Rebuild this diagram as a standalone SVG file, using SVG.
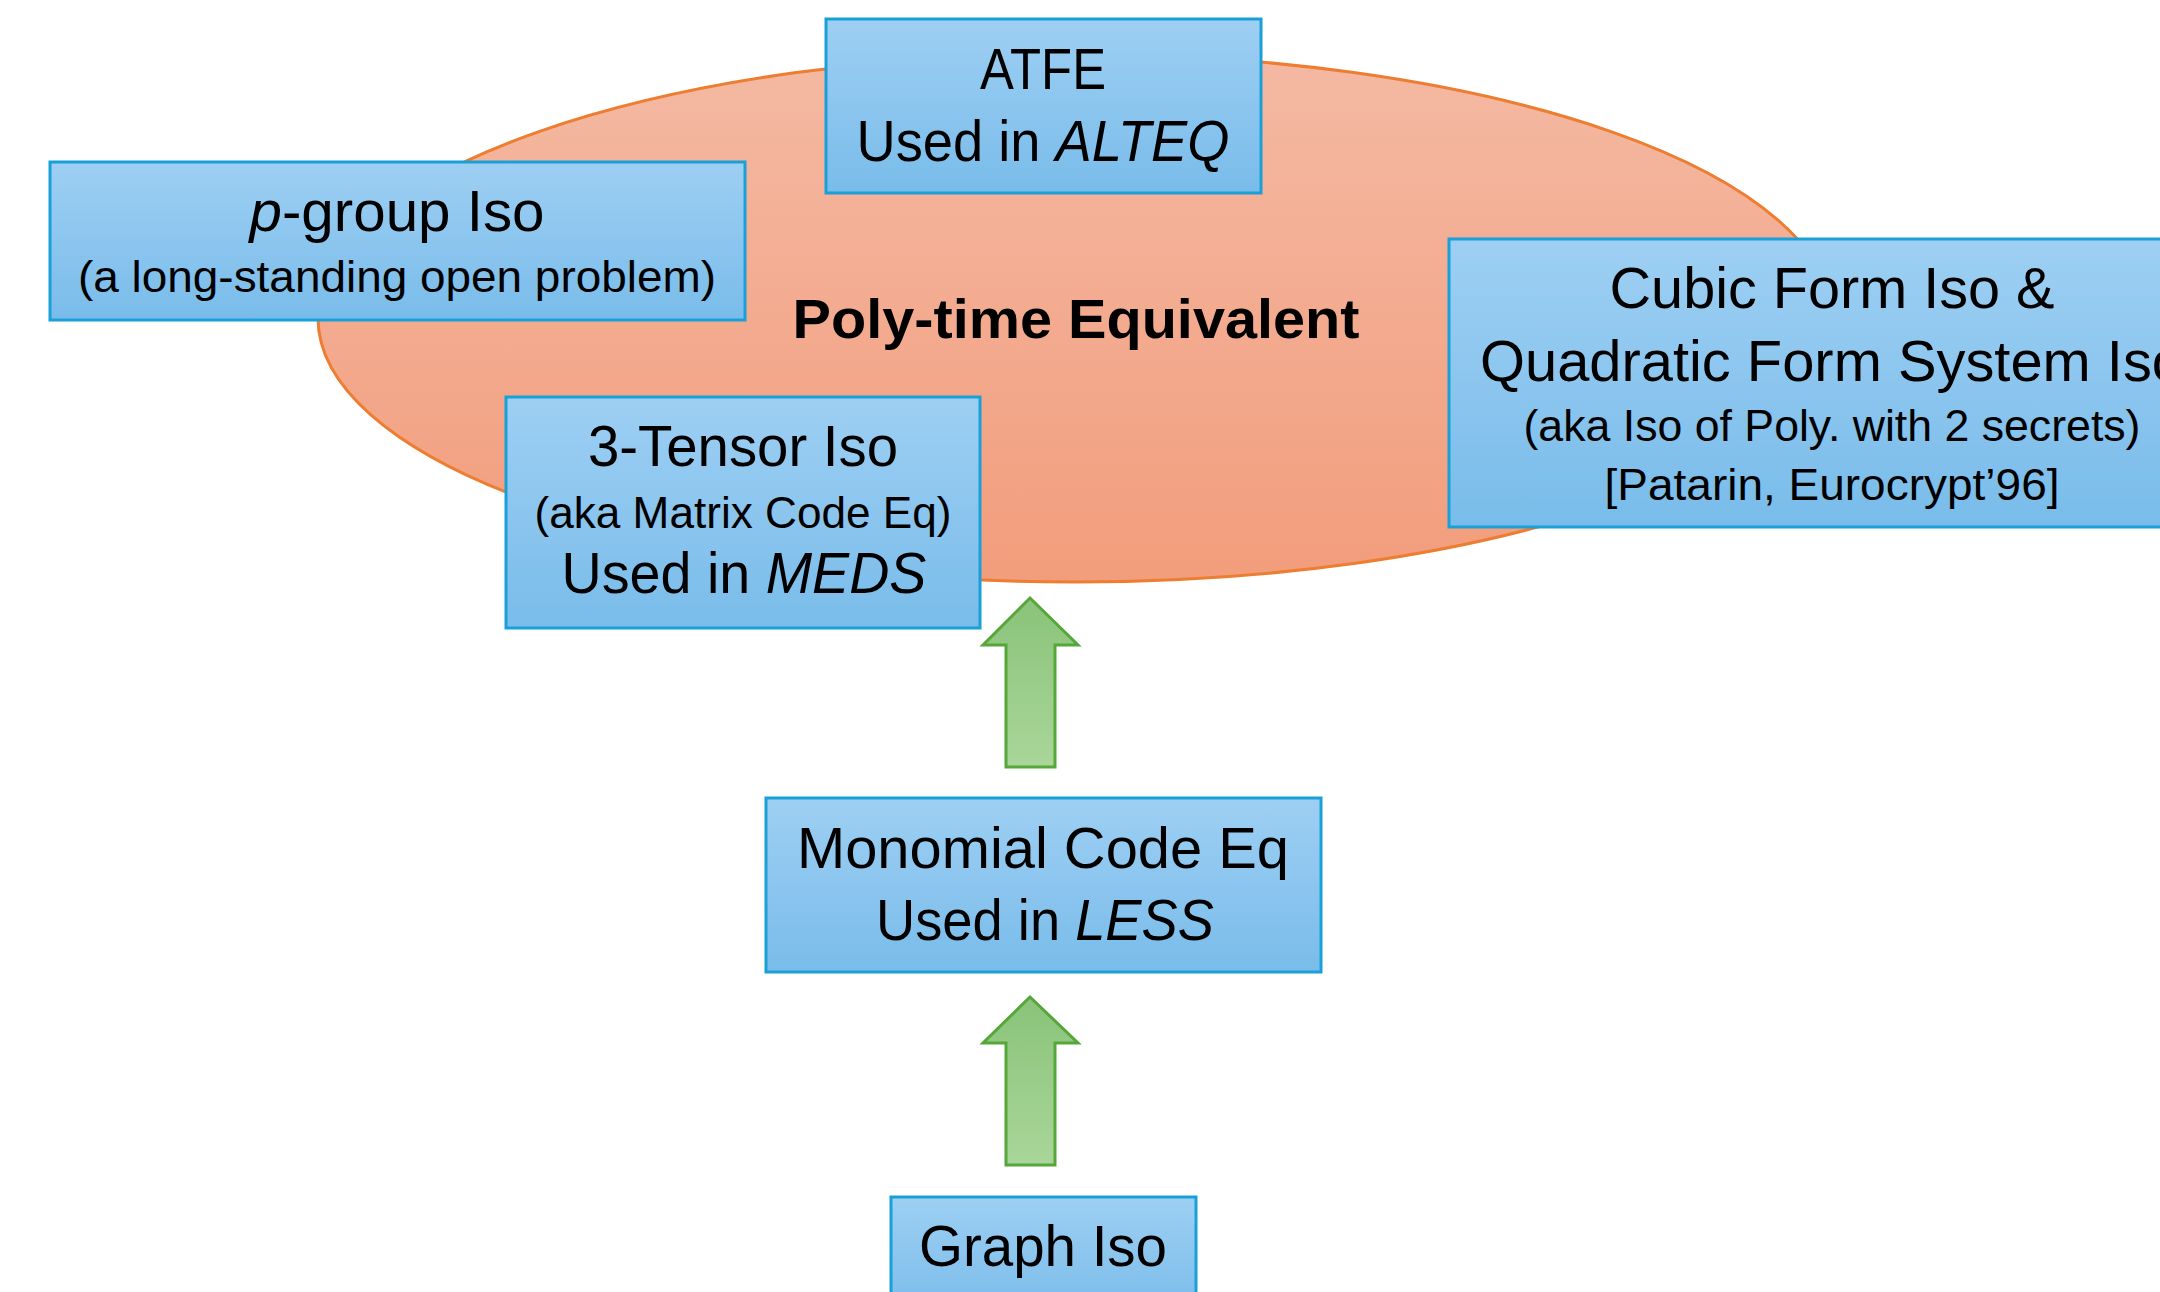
<svg xmlns="http://www.w3.org/2000/svg" width="2160" height="1292" viewBox="0 0 2160 1292">
<defs>
<linearGradient id="boxg" x1="0" y1="0" x2="0" y2="1">
<stop offset="0" stop-color="#9ECFF3"/>
<stop offset="1" stop-color="#79BCEA"/>
</linearGradient>
<linearGradient id="ellg" x1="0" y1="0" x2="0" y2="1">
<stop offset="0" stop-color="#F4B9A3"/>
<stop offset="1" stop-color="#F29D7C"/>
</linearGradient>
<linearGradient id="arrg" x1="0" y1="0" x2="0" y2="1">
<stop offset="0" stop-color="#8AC379"/>
<stop offset="1" stop-color="#A9D69A"/>
</linearGradient>
<style>
.box{fill:url(#boxg);stroke:#1AA0D8;stroke-width:3}
.t{font-family:"Liberation Sans",Arial,sans-serif;fill:#000;text-anchor:middle}
.p{font-size:57px}
.s{font-size:45px}
.b{font-size:55px;font-weight:bold}
.i{font-style:italic}
.arr{fill:url(#arrg);stroke:#56A73A;stroke-width:3;stroke-linejoin:miter}
</style>
</defs>
<rect width="2160" height="1292" fill="#fff"/>
<g id="poly-time-region">
<ellipse cx="1075" cy="318" rx="757" ry="264" fill="url(#ellg)" stroke="#ED7D31" stroke-width="3"/>
<text class="t b" x="1076" y="338" textLength="567" lengthAdjust="spacingAndGlyphs">Poly-time Equivalent</text>
</g>
<g id="connectors">
<polygon class="arr" points="1030,598 1078,645 1055,645 1055,767 1006,767 1006,645 983,645"/>
<polygon class="arr" points="1030,997 1078,1043 1055,1043 1055,1165 1006,1165 1006,1043 983,1043"/>
</g>
<g id="atfe">
<rect class="box" x="826" y="19" width="435" height="174"/>
<text class="t p" x="1043" y="89" textLength="126" lengthAdjust="spacingAndGlyphs">ATFE</text>
<text class="t p" x="1043" y="161" textLength="373" lengthAdjust="spacingAndGlyphs">Used in <tspan class="i">ALTEQ</tspan></text>
</g>
<g id="p-group">
<rect class="box" x="50" y="162" width="695" height="158"/>
<text class="t p" x="397" y="231" textLength="295" lengthAdjust="spacingAndGlyphs"><tspan class="i">p</tspan>-group Iso</text>
<text class="t s" x="397" y="292" textLength="638" lengthAdjust="spacingAndGlyphs">(a long-standing open problem)</text>
</g>
<g id="tensor">
<rect class="box" x="506" y="397" width="474" height="231"/>
<text class="t p" x="743" y="466" textLength="310" lengthAdjust="spacingAndGlyphs">3-Tensor Iso</text>
<text class="t s" x="743" y="528" textLength="417" lengthAdjust="spacingAndGlyphs">(aka Matrix Code Eq)</text>
<text class="t p" x="744" y="593" textLength="365" lengthAdjust="spacingAndGlyphs">Used in <tspan class="i">MEDS</tspan></text>
</g>
<g id="cubic">
<rect class="box" x="1449" y="239" width="770" height="288"/>
<text class="t p" x="1832" y="308" textLength="445" lengthAdjust="spacingAndGlyphs">Cubic Form Iso &amp;</text>
<text class="t p" x="1832" y="381" textLength="704" lengthAdjust="spacingAndGlyphs">Quadratic Form System Iso</text>
<text class="t s" x="1832" y="441" textLength="617" lengthAdjust="spacingAndGlyphs">(aka Iso of Poly. with 2 secrets)</text>
<text class="t s" x="1832" y="500" textLength="455" lengthAdjust="spacingAndGlyphs">[Patarin, Eurocrypt’96]</text>
</g>
<g id="monomial">
<rect class="box" x="766" y="798" width="555" height="174"/>
<text class="t p" x="1043" y="868" textLength="492" lengthAdjust="spacingAndGlyphs">Monomial Code Eq</text>
<text class="t p" x="1045" y="940" textLength="338" lengthAdjust="spacingAndGlyphs">Used in <tspan class="i">LESS</tspan></text>
</g>
<g id="graph">
<rect class="box" x="891" y="1197" width="305" height="120"/>
<text class="t p" x="1043" y="1266" textLength="248" lengthAdjust="spacingAndGlyphs">Graph Iso</text>
</g>
</svg>
